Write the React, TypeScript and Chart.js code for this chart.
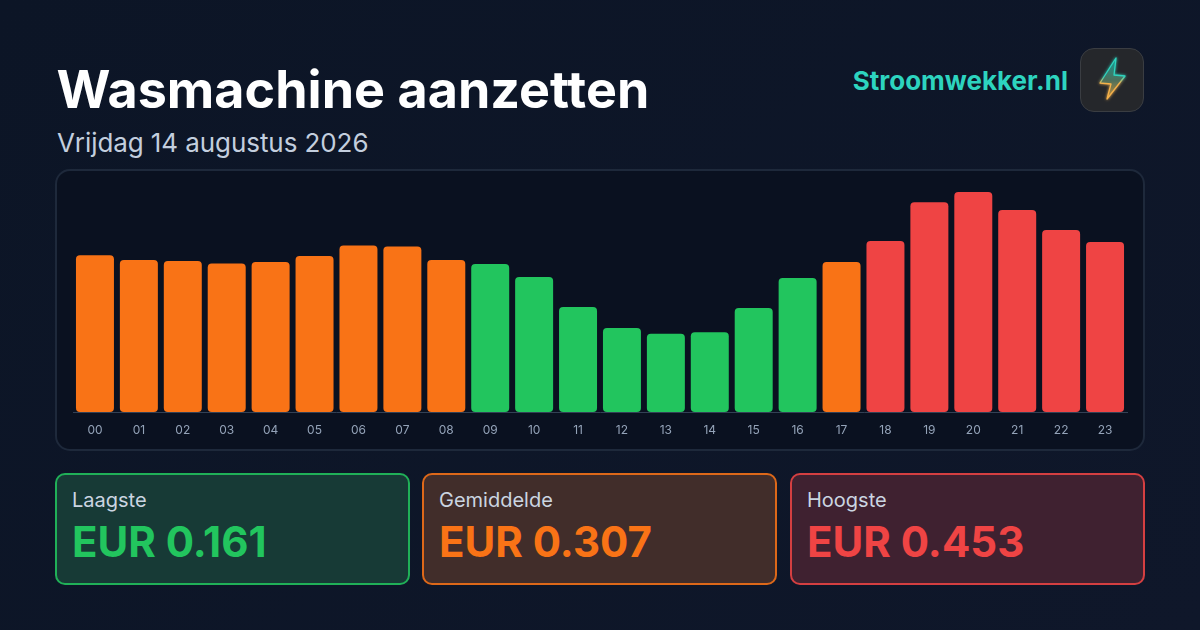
import React, { useEffect, useRef } from "react";
import { Chart, registerables } from "chart.js";

Chart.register(...registerables);

const hours = ["00","01","02","03","04","05","06","07","08","09","10","11","12","13","14","15","16","17","18","19","20","21","22","23"];
const prices = [0.323,0.313,0.311,0.306,0.309,0.321,0.343,0.341,0.313,0.305,0.278,0.216,0.173,0.161,0.164,0.214,0.276,0.309,0.352,0.432,0.453,0.416,0.375,0.350];
const levels = ["m","m","m","m","m","m","m","m","m","l","l","l","l","l","l","l","l","m","h","h","h","h","h","h"];
const levelColors: Record<string,string> = { l: "#22c55e", m: "#f97316", h: "#ef4444" };

const FONT = "Inter, 'Noto Sans', sans-serif";

const cards = [
  { label: "Laagste", value: "EUR 0.161", color: "#22c55e", bg: "#173a36", left: 55 },
  { label: "Gemiddelde", value: "EUR 0.307", color: "#f97316", bg: "#412d2a", left: 422 },
  { label: "Hoogste", value: "EUR 0.453", color: "#ef4444", bg: "#3f2130", left: 790 },
];

const abs = (o: React.CSSProperties): React.CSSProperties => ({ position: "absolute", boxSizing: "border-box", whiteSpace: "nowrap", ...o });

export default function App() {
  const ref = useRef<HTMLCanvasElement>(null);
  useEffect(() => {
    const chart = new Chart(ref.current!, {
      type: "bar",
      data: {
        labels: hours,
        datasets: [{
          data: prices,
          backgroundColor: levels.map((l) => levelColors[l]),
          borderRadius: 4,
          borderSkipped: false,
          barPercentage: 0.865,
          categoryPercentage: 1,
        }],
      },
      options: {
        animation: false,
        responsive: false,
        maintainAspectRatio: false,
        layout: { padding: { left: 17, right: 17, top: 22, bottom: 0 } },
        plugins: { legend: { display: false }, tooltip: { enabled: false } },
        scales: {
          x: {
            grid: { display: false },
            border: { color: "#334155", width: 1 },
            afterFit: (s: any) => { s.height = 38; },
            ticks: { color: "#94a3b8", font: { family: FONT, size: 12 }, padding: 3, maxRotation: 0, autoSkip: false },
          },
          y: { display: false, min: 0, max: 0.453 },
        },
      },
    });
    return () => chart.destroy();
  }, []);

  return (
    <div style={{ position: "fixed", inset: 0, width: 1200, height: 630, overflow: "hidden", background: "linear-gradient(135deg,#0c1526 0%,#0f172a 100%)", fontFamily: FONT }}>
      <div style={abs({ left: 56.5, top: 59, fontSize: 52, fontWeight: 700, lineHeight: "62px", color: "#ffffff", letterSpacing: 0.03 })}>Wasmachine aanzetten</div>
      <div style={abs({ left: 57, top: 126, fontSize: 26, fontWeight: 400, lineHeight: "33px", color: "#c3cede", letterSpacing: -0.08 })}>Vrijdag 14 augustus 2026</div>
      <div style={abs({ right: 132, top: 65, fontSize: 26, fontWeight: 700, lineHeight: "32px", color: "#2dd4bf" })}>Stroomwekker.nl</div>
      <div style={abs({ left: 1080, top: 48, width: 64, height: 64, borderRadius: 14, background: "#25272b", border: "1px solid #3a3d42" })}>
        <svg width="62" height="62" viewBox="0 0 62 62" style={{ display: "block" }}>
          <defs>
            <filter id="gl" x="-60%" y="-60%" width="220%" height="220%">
              <feGaussianBlur stdDeviation="1.8" result="b" />
              <feMerge><feMergeNode in="b" /><feMergeNode in="SourceGraphic" /></feMerge>
            </filter>
            <linearGradient id="st" x1="0" y1="0" x2="0" y2="1">
              <stop offset="0.45" stopColor="#2dd4bf" />
              <stop offset="0.62" stopColor="#f5b04a" />
            </linearGradient>
            <linearGradient id="fl" x1="0" y1="0" x2="0" y2="1">
              <stop offset="0.15" stopColor="#1f8f86" />
              <stop offset="0.55" stopColor="#4f6f5a" />
              <stop offset="1" stopColor="#c98d36" />
            </linearGradient>
          </defs>
          <path d="M35 9 L19 34 L30 35 L26 50 L44 27 L33 26 Z" fill="url(#fl)" stroke="url(#st)" strokeWidth="1.3" strokeLinejoin="round" filter="url(#gl)" />
        </svg>
      </div>
      <div style={abs({ left: 55, top: 169, width: 1090, height: 282, borderRadius: 15, background: "#0a1120", border: "2px solid #1e293b" })} />
      <canvas ref={ref} width={1088} height={280} style={{ position: "absolute", left: 56, top: 170, width: 1088, height: 280 }} />
      {cards.map((c) => (
        <div key={c.label} style={abs({ left: c.left, top: 473, width: 355, height: 112, borderRadius: 10, background: c.bg, border: `2px solid ${c.color}d9` , backgroundClip: "border-box" })}>
          <div style={abs({ left: 15, top: 12, fontSize: 20, lineHeight: "26px", color: "#cbd5e1" })}>{c.label}</div>
          <div style={abs({ left: 15, top: 41, fontSize: 42, fontWeight: 700, lineHeight: "52px", color: c.color })}>{c.value}</div>
        </div>
      ))}
    </div>
  );
}
